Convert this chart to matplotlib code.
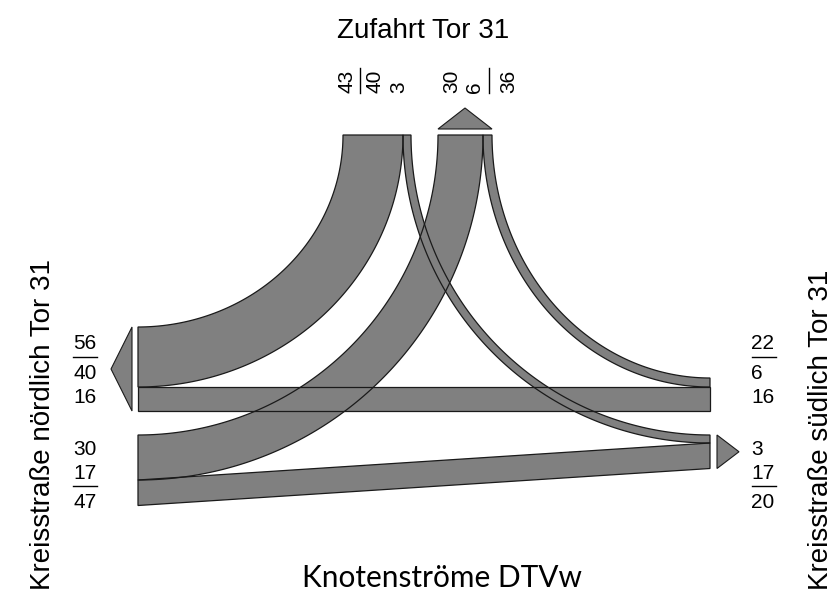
import numpy as np
import matplotlib.pyplot as plt
from matplotlib.patches import Polygon

# Knotenströme DTVw
tor_nord = 40    # Zufahrt Tor 31 -> Kreisstraße nördlich
tor_sued = 3     # Zufahrt Tor 31 -> Kreisstraße südlich
nord_tor = 30    # Kreisstraße nördlich -> Zufahrt Tor 31
nord_sued = 17   # Kreisstraße nördlich -> Kreisstraße südlich
sued_tor = 6     # Kreisstraße südlich -> Zufahrt Tor 31
sued_nord = 16   # Kreisstraße südlich -> Kreisstraße nördlich

titel_oben = 'Zufahrt Tor 31'
titel_links = 'Kreisstraße nördlich Tor 31'
titel_rechts = 'Kreisstraße südlich Tor 31'
titel_unten = 'Knotenströme DTVw'

GRAU = '#808080'
KANTE = '#1a1a1a'
FONT = 'Liberation Sans'

# Layout (Pixelraster der Vorlage)
LINKS, RECHTS, OBEN = 138, 710, 135


def breite(v):
    return max(1.5 * v, 8.0)


def bogen(x_oben, x_seite, y_seite, n=120):
    # Viertelellipse vom oberen Arm (senkrecht) zum Seitenarm (waagerecht)
    t = np.linspace(0, np.pi / 2, n)
    return np.column_stack([x_seite + (x_oben - x_seite) * np.cos(t),
                            OBEN + (y_seite - OBEN) * np.sin(t)])


def kurvenband(span_oben, x_seite, span_seite):
    xa, xb = sorted(span_oben, key=lambda x: abs(x - x_seite))
    ya, yb = sorted(span_seite)
    return np.vstack([bogen(xa, x_seite, ya), bogen(xb, x_seite, yb)[::-1]])


# Arm oben: Zufluss (40, 3), Abfluss (30, 6)
x = 343
o_tn = (x, x + breite(tor_nord)); x += breite(tor_nord)
o_ts = (x, x + breite(tor_sued)); x += breite(tor_sued)
oben_zu = (343, x)
x = 438
o_nt = (x, x + breite(nord_tor)); x += breite(nord_tor)
o_st = (x, x + breite(sued_tor)); x += breite(sued_tor)
oben_ab = (438, x)

# Arm links: Abfluss (40, 16), Zufluss (30, 17)
y = 327
l_tn = (y, y + breite(tor_nord)); y += breite(tor_nord)
l_sn = (y, y + breite(sued_nord)); y += breite(sued_nord)
links_ab = (327, y)
y = 435
l_nt = (y, y + breite(nord_tor)); y += breite(nord_tor)
l_ns = (y, y + breite(nord_sued)); y += breite(nord_sued)
links_zu = (435, y)

# Arm rechts: Zufluss (6, 16), Abfluss (3, 17)
r_sn = l_sn
r_st = (r_sn[0] - breite(sued_tor), r_sn[0])
rechts_zu = (r_st[0], r_sn[1])
y = 435
r_ts = (y, y + breite(tor_sued)); y += breite(tor_sued)
r_ns = (y, y + breite(nord_sued)); y += breite(nord_sued)
rechts_ab = (435, y)

baender = [
    kurvenband(o_tn, LINKS, l_tn),
    kurvenband(o_nt, LINKS, l_nt),
    kurvenband(o_st, RECHTS, r_st),
    np.array([[LINKS, l_sn[0]], [RECHTS, r_sn[0]], [RECHTS, r_sn[1]], [LINKS, l_sn[1]]]),
    np.array([[LINKS, l_ns[0]], [RECHTS, r_ns[0]], [RECHTS, r_ns[1]], [LINKS, l_ns[1]]]),
    kurvenband(o_ts, RECHTS, r_ts),
]

fig = plt.figure(figsize=(8.33, 5.93), dpi=100)
ax = fig.add_axes([0, 0, 1, 1])
ax.set_xlim(0, 833)
ax.set_ylim(593, 0)
ax.axis('off')

for b in baender:
    ax.add_patch(Polygon(b, closed=True, fc=GRAU, ec='none', zorder=1))
for b in baender:
    ax.add_patch(Polygon(b, closed=True, fc='none', ec=KANTE, lw=0.9, zorder=2))

# Pfeile (Abfluss-Richtung)
pfeile = [
    [(132, links_ab[0]), (132, links_ab[1]), (111, sum(links_ab) / 2)],
    [(oben_ab[0], 129), (oben_ab[1], 129), (sum(oben_ab) / 2, 108)],
    [(717, rechts_ab[0]), (717, rechts_ab[1]), (739, sum(rechts_ab) / 2)],
]
for p in pfeile:
    ax.add_patch(Polygon(p, closed=True, fc=GRAU, ec=KANTE, lw=0.8, zorder=2))

# Beschriftung der Ströme
lab = dict(fontsize=15, family=FONT, color='black')
reihen_oben = [349, 379, 403]
reihen_unten = [455, 479, 508]


def stapel(xpos, reihen, werte, strich_y, ha, sx):
    for yy, v in zip(reihen, werte):
        ax.text(xpos, yy, str(v), ha=ha, va='baseline', **lab)
    ax.plot(sx, [strich_y, strich_y], color='black', lw=1)


stapel(85, reihen_oben, [tor_nord + sued_nord, tor_nord, sued_nord], 357, 'center', [73, 97])
stapel(85, reihen_unten, [nord_tor, nord_sued, nord_tor + nord_sued], 486, 'center', [73, 97])
stapel(751, reihen_oben, [sued_tor + sued_nord, sued_tor, sued_nord], 357, 'left', [752, 776])
stapel(751, reihen_unten, [tor_sued, nord_sued, tor_sued + nord_sued], 486, 'left', [752, 776])

spalten = [(345, tor_nord + tor_sued), (373, tor_nord), (397, tor_sued),
           (450, nord_tor), (473, sued_tor), (507, nord_tor + sued_tor)]
for xx, v in spalten:
    ax.text(xx + 7.5, 93, str(v), rotation=90, rotation_mode='anchor',
            ha='left', va='baseline', **lab)
for xx in [360, 489]:
    ax.plot([xx, xx], [68, 93], color='black', lw=1)

# Titel
ax.text(423, 38, titel_oben, ha='center', va='baseline', fontsize=20, family=FONT)
ax.text(50, 590, titel_links, rotation=90, rotation_mode='anchor',
        ha='left', va='baseline', fontsize=20, family=FONT)
ax.text(828, 590, titel_rechts, rotation=90, rotation_mode='anchor',
        ha='left', va='baseline', fontsize=20, family=FONT)
ax.text(442, 587, titel_unten, ha='center', va='baseline', fontsize=21.5, family='Lato')

fig.savefig('out.png', dpi=100)
